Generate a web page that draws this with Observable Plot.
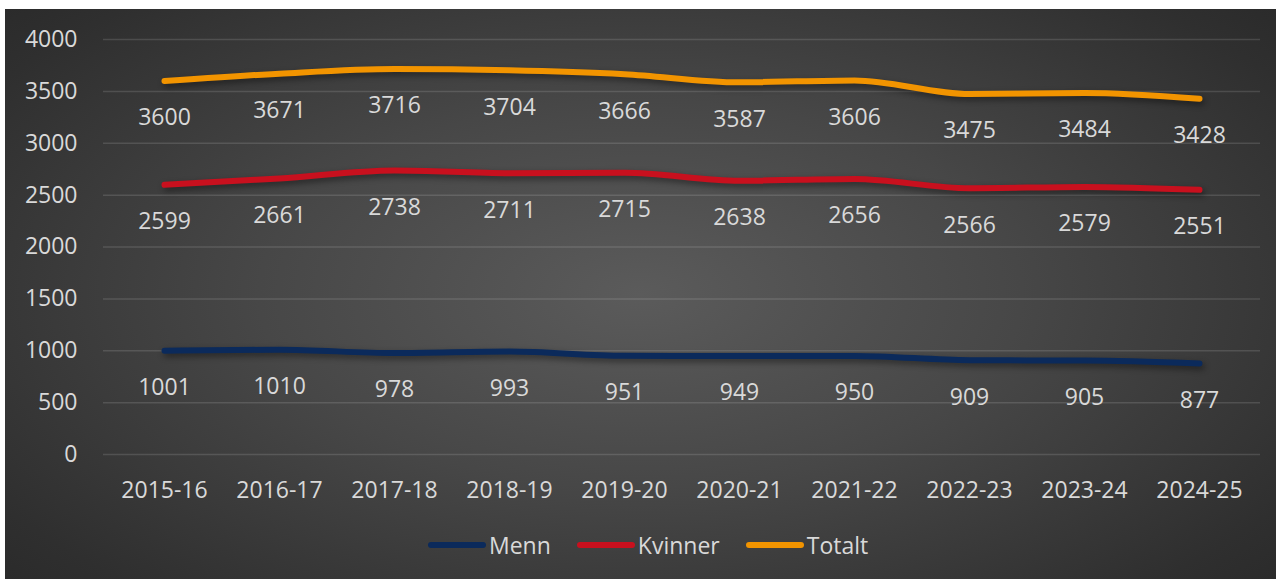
<!DOCTYPE html>
<html>
<head>
<meta charset="utf-8">
<script src="https://cdn.jsdelivr.net/npm/d3@7"></script>
<script src="https://cdn.jsdelivr.net/npm/@observablehq/plot@0.6"></script>
<style>
  html, body { margin: 0; padding: 0; background: #ffffff; }
  #frame {
    position: absolute; left: 5px; top: 9px; width: 1271px; height: 570px;
    background: radial-gradient(ellipse 75% 85% at 50% 50%, #5b5b5b 0%, #474747 40%, #2f2f2f 80%, #262626 100%);
    font-family: "Open Sans", sans-serif; overflow: hidden;
  }
  #chart { position: absolute; left: 0; top: 0; }
  #chart svg g[aria-label="line"] path { filter: drop-shadow(2px 3px 3px rgba(0,0,0,0.45)); }
  #chart svg text { font-weight: 400; }
  #legend { position: absolute; top: 520px; left: 423px; display: flex; align-items: center; color: #d9d9d9; font-size: 23px; }
  .item { display: flex; align-items: center; margin-right: 26px; }
  .sw { width: 58px; height: 6px; border-radius: 3px; margin-right: 3px; }
</style>
</head>
<body>
<div id="frame">
  <div id="chart"></div>
  <div id="legend"></div>
</div>
<script>
const seasons = ["2015-16","2016-17","2017-18","2018-19","2019-20","2020-21","2021-22","2022-23","2023-24","2024-25"];
const menn = [1001,1010,978,993,951,949,950,909,905,877];
const kvinner = [2599,2661,2738,2711,2715,2638,2656,2566,2579,2551];
const totalt = [3600,3671,3716,3704,3666,3587,3606,3475,3484,3428];
const seriesNames = ["Menn","Kvinner","Totalt"];
const seriesColors = ["#0b2a5b","#c8101e","#f29400"];
const yTicks = [0,500,1000,1500,2000,2500,3000,3500,4000];

const seriesValues = [menn, kvinner, totalt];
const rows = [];
seriesNames.forEach((name, i) => {
  seasons.forEach((s, j) => rows.push({series: name, season: s, value: seriesValues[i][j]}));
});

const plot = Plot.plot({
  width: 1271,
  height: 510,
  marginTop: 30,
  marginBottom: 65,
  marginLeft: 98,
  marginRight: 16,
  style: {background: "transparent", fontFamily: "Open Sans, sans-serif", fontSize: "23px", color: "#d9d9d9", overflow: "visible"},
  x: {type: "point", domain: seasons, padding: 0.5, label: null},
  y: {domain: [0, 4000], label: null},
  color: {domain: seriesNames, range: seriesColors},
  marks: [
    Plot.ruleY(yTicks, {stroke: "#ffffff", strokeOpacity: 0.13, strokeWidth: 1.5}),
    Plot.axisX({tickSize: 0, tickPadding: 27, fontSize: 23, fill: "#d9d9d9", label: null}),
    Plot.axisY({ticks: yTicks, tickFormat: d => String(d), tickSize: 0, tickPadding: 26, fontSize: 23, fill: "#d9d9d9", label: null}),
    Plot.line(rows, {x: "season", y: "value", z: "series", stroke: "series", strokeWidth: 6, strokeLinecap: "round", strokeLinejoin: "round", curve: "monotone-x"}),
    Plot.text(rows, {x: "season", y: "value", text: d => String(d.value), dy: 37, fill: "#d9d9d9", fontSize: 23})
  ]
});
document.getElementById("chart").appendChild(plot);

const legend = document.getElementById("legend");
seriesNames.forEach((n, i) => {
  const it = document.createElement("div");
  it.className = "item";
  const sw = document.createElement("div");
  sw.className = "sw";
  sw.style.background = seriesColors[i];
  const t = document.createElement("span");
  t.textContent = n;
  it.appendChild(sw); it.appendChild(t);
  legend.appendChild(it);
});
</script>
</body>
</html>
